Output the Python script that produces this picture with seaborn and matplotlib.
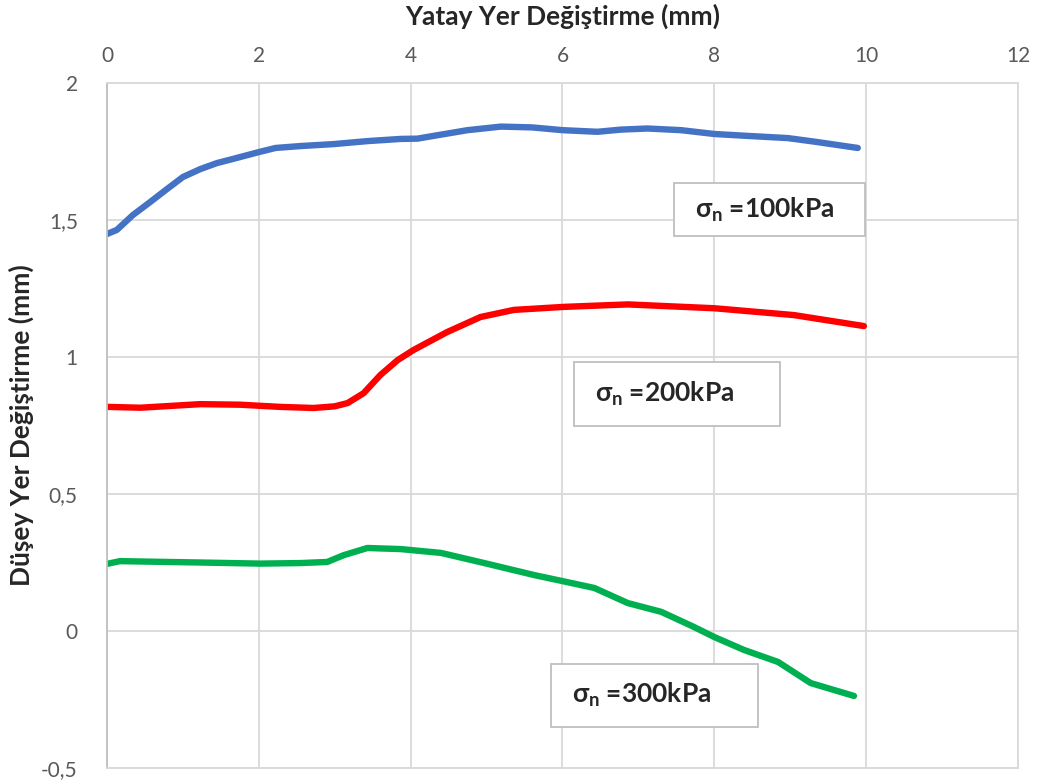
import matplotlib
matplotlib.use("Agg")
import matplotlib.pyplot as plt
import seaborn as sns
import pandas as pd

# Horizontal displacement (mm) and vertical displacement (mm) for each normal stress
x_100 = [0.0, 0.13, 0.34, 0.57, 0.79, 1.0, 1.23, 1.45, 1.66, 2.0, 2.22, 2.55, 2.98, 3.43, 3.87, 4.09, 4.30, 4.75,
         5.19, 5.6, 6.0, 6.46, 6.77, 7.12, 7.56, 8.0, 8.44, 8.97, 9.32, 9.89]
y_100 = [1.449, 1.464, 1.518, 1.566, 1.613, 1.657, 1.686, 1.708, 1.723, 1.748, 1.763, 1.770, 1.777, 1.788, 1.796,
         1.797, 1.807, 1.828, 1.841, 1.838, 1.828, 1.822, 1.830, 1.834, 1.828, 1.814, 1.807, 1.799, 1.786, 1.763]

x_200 = [0.0, 0.44, 1.23, 1.75, 2.28, 2.72, 3.0, 3.17, 3.38, 3.6, 3.83, 4.04, 4.48, 4.92, 5.36, 6.02, 6.86,
         8.0, 9.05, 9.97]
y_200 = [0.818, 0.815, 0.828, 0.826, 0.818, 0.814, 0.820, 0.832, 0.868, 0.934, 0.989, 1.026, 1.091, 1.146, 1.172,
         1.183, 1.192, 1.178, 1.153, 1.113]

x_300 = [0.0, 0.17, 1.23, 2.02, 2.55, 2.9, 3.12, 3.43, 3.87, 4.4, 4.97, 5.63, 6.07, 6.42, 6.86, 7.3, 7.73, 8.0,
         8.39, 8.84, 9.27, 9.84]
y_300 = [0.245, 0.255, 0.25, 0.246, 0.248, 0.252, 0.277, 0.303, 0.299, 0.285, 0.248, 0.204, 0.178, 0.157, 0.102,
         0.07, 0.015, -0.022, -0.069, -0.113, -0.19, -0.237]

series_names = ["100kPa", "200kPa", "300kPa"]
series_colors = ["#4472c4", "#ff0000", "#00b050"]

x_ticks = [0, 2, 4, 6, 8, 10, 12]
y_ticks = [-0.5, 0, 0.5, 1, 1.5, 2]
y_tick_labels = ["-0,5", "0", "0,5", "1", "1,5", "2"]

# label boxes: (left, bottom, width, height) in data units
label_boxes = [(7.47, 1.44, 2.51, 0.196), (6.15, 0.75, 2.72, 0.23), (5.85, -0.35, 2.72, 0.23)]

df = pd.concat([
    pd.DataFrame({"x": xs, "y": ys, "stress": name})
    for xs, ys, name in zip([x_100, x_200, x_300], [y_100, y_200, y_300], series_names)
])

sns.set_theme(style="white")
plt.rcParams["font.family"] = ["Lato", "DejaVu Sans"]
plt.rcParams["mathtext.fontset"] = "custom"
plt.rcParams["mathtext.it"] = "Lato:bold"
plt.rcParams["mathtext.rm"] = "Lato:bold"
plt.rcParams["mathtext.bf"] = "Lato:bold"

fig = plt.figure(figsize=(10.38, 7.84), dpi=100)
ax = fig.add_axes([0.1031, 0.0204, 0.8776, 0.8737])

sns.lineplot(data=df, x="x", y="y", hue="stress", palette=series_colors,
             linewidth=4.6, sort=False, legend=False, ax=ax,
             solid_capstyle="round", solid_joinstyle="round")

ax.set_xlim(0, 12)
ax.set_ylim(-0.5, 2)
ax.set_xticks(x_ticks)
ax.set_yticks(y_ticks)
ax.set_yticklabels(y_tick_labels)
ax.xaxis.tick_top()
ax.xaxis.set_label_position("top")
ax.tick_params(axis="both", length=0, labelsize=15, labelcolor="#595959")
ax.tick_params(axis="x", pad=12)
ax.tick_params(axis="y", pad=21)
ax.grid(True, color="#d9d9d9", linewidth=1.3)
for s in ax.spines.values():
    s.set_color("#d9d9d9")
    s.set_linewidth(1.3)
ax.spines["left"].set_color("#bfbfbf")

ax.set_xlabel("Yatay Yer Değiştirme (mm)", fontsize=19, fontweight="bold")
ax.set_ylabel("Düşey Yer Değiştirme (mm)", fontsize=19, fontweight="bold")
ax.xaxis.set_label_coords(0.5, 1.085)
ax.yaxis.set_label_coords(-0.080, 0.5)

for (bx, by, bw, bh), name in zip(label_boxes, series_names):
    ax.add_patch(plt.Rectangle((bx, by), bw, bh, facecolor="white",
                               edgecolor="#bfbfbf", linewidth=1.3, zorder=3))
    ax.text(bx + 0.28, by + bh / 2, r"$\sigma_n$ =" + name, fontsize=19,
            fontweight="bold", va="center", ha="left", zorder=4)

fig.savefig("out.png", dpi=100, facecolor="white")
